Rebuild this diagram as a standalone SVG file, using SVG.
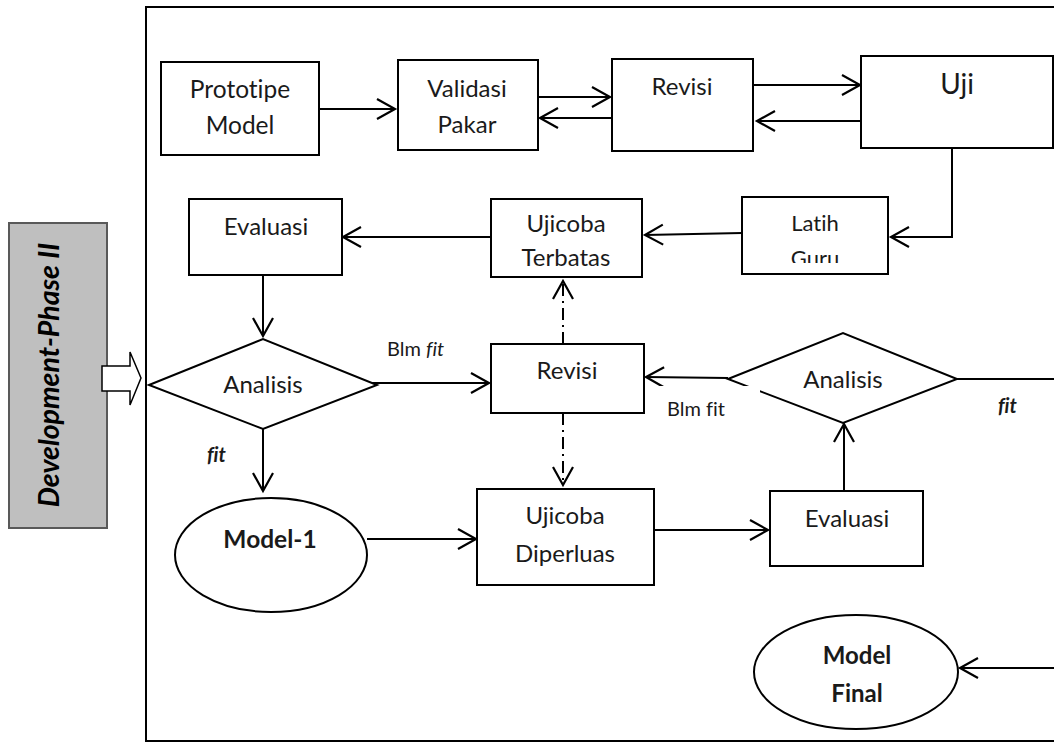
<svg xmlns="http://www.w3.org/2000/svg" width="1054" height="742" viewBox="0 0 1054 742">
<style>
.box{fill:#fff;stroke:#000;stroke-width:2}
.ln{fill:none;stroke:#000;stroke-width:2}
.dd{fill:none;stroke:#000;stroke-width:2;stroke-dasharray:12 5 2 5}
.t{font-family:Lato,"Liberation Sans",sans-serif;font-size:24px;fill:#1a1a1a;text-anchor:middle;font-variant-ligatures:none}
.s{font-family:Lato,"Liberation Sans",sans-serif;font-size:20px;fill:#1a1a1a;font-variant-ligatures:none}
.b{font-weight:bold}
.i{font-style:italic}
</style>
<defs>
<marker id="ah" markerUnits="userSpaceOnUse" markerWidth="22" markerHeight="24" viewBox="0 0 22 24" refX="19" refY="12" orient="auto">
<path d="M1,2 L19,12 L1,22" fill="none" stroke="#000" stroke-width="2.2"/>
</marker>
<clipPath id="cg"><rect x="742" y="197" width="146" height="66"/></clipPath>
</defs>
<rect width="1054" height="742" fill="#fff"/>
<g id="frame">
<path d="M1054,7 L146,7 L146,741 L1054,741" class="ln"/>
</g>
<g id="phase">
<rect x="9" y="223" width="98" height="305" fill="#bfbfbf" stroke="#595959" stroke-width="2"/>
<text transform="translate(59,375) rotate(-90)" style="font-family:Lato,'Liberation Sans',sans-serif;font-size:28.5px;font-weight:bold;font-style:italic;text-anchor:middle;fill:#000">Development-Phase II</text>
<path d="M102,366 L130,366 L130,352 L141,378 L130,405 L130,391 L102,391 Z" fill="#fff" stroke="#000" stroke-width="1.5"/>
</g>
<g id="connectors">
<line x1="319" y1="109" x2="395" y2="109" class="ln" marker-end="url(#ah)"/>
<line x1="535" y1="97" x2="610" y2="97" class="ln" marker-end="url(#ah)"/>
<line x1="612" y1="118" x2="540" y2="118" class="ln" marker-end="url(#ah)"/>
<line x1="753" y1="85" x2="860" y2="85" class="ln" marker-end="url(#ah)"/>
<line x1="863" y1="121" x2="757" y2="121" class="ln" marker-end="url(#ah)"/>
<polyline points="952,148 952,237 891,237" class="ln" marker-end="url(#ah)"/>
<line x1="742" y1="233" x2="645" y2="235" class="ln" marker-end="url(#ah)"/>
<line x1="491" y1="237" x2="343" y2="237" class="ln" marker-end="url(#ah)"/>
<line x1="263" y1="275" x2="263" y2="336" class="ln" marker-end="url(#ah)"/>
<line x1="263" y1="429" x2="263" y2="491" class="ln" marker-end="url(#ah)"/>
<line x1="372" y1="383" x2="489" y2="383" class="ln" marker-end="url(#ah)"/>
<line x1="563" y1="344" x2="563" y2="281" class="dd" marker-end="url(#ah)"/>
<line x1="563" y1="413" x2="563" y2="485" class="dd" marker-end="url(#ah)"/>
<line x1="728" y1="378" x2="646" y2="377" class="ln" marker-end="url(#ah)"/>
<line x1="957" y1="379" x2="1054" y2="379" class="ln"/>
<line x1="844" y1="491" x2="844" y2="424" class="ln" marker-end="url(#ah)"/>
<line x1="367" y1="539" x2="476" y2="539" class="ln" marker-end="url(#ah)"/>
<line x1="654" y1="530" x2="768" y2="530" class="ln" marker-end="url(#ah)"/>
<line x1="1054" y1="668" x2="960" y2="668" class="ln" marker-end="url(#ah)"/>
</g>
<g id="prototipe">
<rect x="161" y="62" width="158" height="93" class="box"/>
<text x="240" y="98" class="t" style="font-size:24.5px">Prototipe</text>
<text x="240" y="134" class="t" style="font-size:24.5px">Model</text>
</g>
<g id="validasi">
<rect x="398" y="60" width="140" height="90" class="box"/>
<text x="467" y="97" class="t">Validasi</text>
<text x="467" y="133" class="t">Pakar</text>
</g>
<g id="revisi-top">
<rect x="612" y="59" width="141" height="92" class="box"/>
<text x="682" y="95" class="t">Revisi</text>
</g>
<g id="uji">
<rect x="861" y="56" width="192" height="92" class="box"/>
<text x="957" y="94" class="t" style="font-size:28px">Uji</text>
</g>
<g id="latih">
<rect x="742" y="197" width="146" height="77" class="box"/>
<text x="815" y="231" class="t" style="font-size:22px">Latih</text>
<text x="815" y="266" class="t" style="font-size:22px" clip-path="url(#cg)">Guru</text>
</g>
<g id="ujicoba-terbatas">
<rect x="491" y="199" width="151" height="78" class="box"/>
<text x="566" y="232" class="t">Ujicoba</text>
<text x="566" y="266" class="t">Terbatas</text>
</g>
<g id="evaluasi-1">
<rect x="189" y="199" width="153" height="76" class="box"/>
<text x="266" y="235" class="t">Evaluasi</text>
</g>
<g id="analisis-1">
<polygon points="149,385 263,339 377,385 263,429" class="box"/>
<text x="263" y="393" class="t">Analisis</text>
<text x="207" y="462" class="s b i">fit</text>
<text x="387" y="356" class="s">Blm <tspan class="i">fit</tspan></text>
</g>
<g id="revisi-mid">
<rect x="491" y="344" width="153" height="69" class="box"/>
<text x="567" y="379" class="t">Revisi</text>
</g>
<g id="analisis-2">
<polygon points="728,379 843,333 957,379 843,423" class="box"/>
<rect x="650" y="386" width="110" height="40" fill="#fff"/>
<text x="667" y="416" class="s">Blm fit</text>
<text x="843" y="388" class="t">Analisis</text>
<text x="998" y="413" class="s b i">fit</text>
</g>
<g id="model-1">
<ellipse cx="271" cy="555" rx="96" ry="57" class="box"/>
<text x="270" y="548" class="t b" style="font-size:24.5px">Model-1</text>
</g>
<g id="ujicoba-diperluas">
<rect x="477" y="489" width="177" height="96" class="box"/>
<text x="565" y="524" class="t">Ujicoba</text>
<text x="565" y="562" class="t">Diperluas</text>
</g>
<g id="evaluasi-2">
<rect x="770" y="491" width="153" height="75" class="box"/>
<text x="847" y="527" class="t">Evaluasi</text>
</g>
<g id="model-final">
<ellipse cx="856" cy="672" rx="102" ry="57" class="box"/>
<text x="857" y="664" class="t b" style="font-size:24px">Model</text>
<text x="857" y="702" class="t b" style="font-size:24px">Final</text>
</g>
</svg>
